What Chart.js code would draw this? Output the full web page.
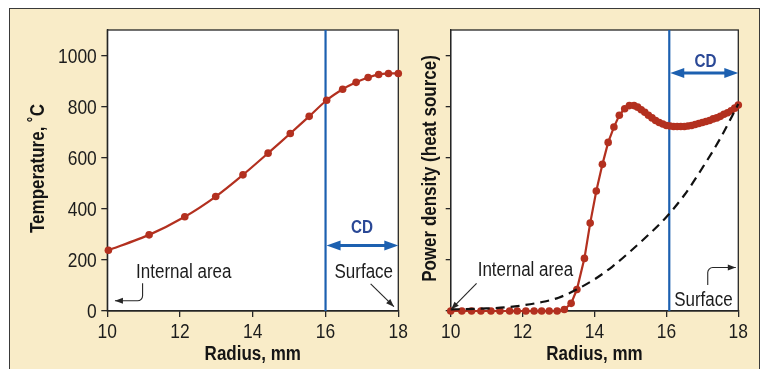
<!DOCTYPE html>
<html>
<head>
<meta charset="utf-8">
<script src="https://cdn.jsdelivr.net/npm/chart.js@4/dist/chart.umd.min.js"></script>
<style>
  html, body { margin: 0; padding: 0; background: #fff; }
  body { width: 763px; height: 369px; position: relative; overflow: hidden; }
  #frame { position: absolute; left: 9px; top: 8px; width: 751px; height: 380px; background: #f9ecc8; border: 1.5px solid #3a3a3a; box-sizing: border-box; }
  #tempChart { position: absolute; left: 0; top: 0; }
  #powerChart { position: absolute; left: 400px; top: 0; }
</style>
</head>
<body>
<div id="frame"></div>
<canvas id="tempChart" width="440" height="369"></canvas>
<canvas id="powerChart" width="363" height="369"></canvas>
<script>
// left panel: temperature vs radius
const radiusTemp = [10.03, 11.15, 12.13, 12.98, 13.73, 14.42, 15.03, 15.55, 16.03, 16.47, 16.84, 17.17, 17.46, 17.73, 18.0];
const temperature = [238, 298, 369, 448, 533, 618, 695, 762, 825, 868, 895, 914, 926, 930, 930];

// right panel: power density vs radius
const radiusPower = [10.0, 10.31, 10.58, 10.84, 11.12, 11.37, 11.64, 11.85, 12.09, 12.32, 12.53, 12.74, 12.96,
  13.16, 13.35, 13.51, 13.72, 13.88, 14.05, 14.22, 14.38, 14.54, 14.69, 14.84, 14.97, 15.1,
  15.2, 15.3, 15.4, 15.5, 15.6, 15.7, 15.8, 15.9, 16.0, 16.1, 16.2, 16.3, 16.4, 16.5, 16.6, 16.7,
  16.8, 16.9, 17.0, 17.1, 17.2, 17.3, 17.4, 17.5, 17.6, 17.7, 17.8, 17.9, 18.0];
const powerDensity = [0, 0, 0, 0, 0, 0, 0, 0, 0, 0, 0, 0, 0,
  0.03, 0.15, 0.42, 1.03, 1.72, 2.35, 2.87, 3.30, 3.60, 3.83, 3.96, 4.02, 4.02,
  3.99, 3.94, 3.89, 3.83, 3.78, 3.73, 3.69, 3.66, 3.63, 3.62, 3.61, 3.61, 3.61, 3.61, 3.62, 3.63,
  3.65, 3.67, 3.69, 3.71, 3.73, 3.76, 3.78, 3.81, 3.85, 3.88, 3.92, 3.97, 4.03];

// dashed reference curve
const dashRadius = [10, 11, 11.5, 12, 12.5, 13, 13.5, 14, 14.5, 15, 15.5, 16, 16.5, 17, 17.5, 18];
const dashPower = [0.03, 0.05, 0.07, 0.11, 0.17, 0.26, 0.42, 0.62, 0.87, 1.17, 1.49, 1.84, 2.27, 2.8, 3.38, 4.05];

const radiusTicks = [10, 12, 14, 16, 18];
const tempTicks = [0, 200, 400, 600, 800, 1000];
const powerTicks = [0, 1, 2, 3, 4, 5];

const FONT = '"Liberation Sans", Arial, sans-serif';
const SQUEEZE = 0.85;   // no narrow face installed, so squeeze the regular one
const RED = '#b3301f';
const BLUE = '#1c60b0';
const NAVY = '#2a4896';
const INK = '#262626';

function narrow(ctx, text, x, y, o) {
  ctx.save();
  ctx.translate(x, y);
  if (o.rotate) ctx.rotate(o.rotate);
  ctx.scale(o.squeeze || SQUEEZE, 1);
  ctx.font = (o.weight || 'normal') + ' ' + o.size + 'px ' + FONT;
  ctx.fillStyle = o.color || '#1c1c1c';
  ctx.textAlign = o.align || 'center';
  ctx.textBaseline = 'alphabetic';
  ctx.fillText(text, 0, 0);
  ctx.restore();
}

function arrowHead(ctx, x, y, ang, len, half, color) {
  ctx.save();
  ctx.translate(x, y);
  ctx.rotate(ang);
  ctx.beginPath();
  ctx.moveTo(0, 0);
  ctx.lineTo(-len, -half);
  ctx.lineTo(-len, half);
  ctx.closePath();
  ctx.fillStyle = color;
  ctx.fill();
  ctx.restore();
}

const plotBox = {
  id: 'plotBox',
  beforeDraw(chart) {
    const { ctx, chartArea: a } = chart;
    ctx.save();
    ctx.fillStyle = '#fff';
    ctx.fillRect(a.left, a.top, a.width, a.height);
    ctx.restore();
  },
  beforeDatasetsDraw(chart) {
    const { ctx, chartArea: a } = chart;
    ctx.save();
    ctx.strokeStyle = INK;
    ctx.lineWidth = 1.3;
    ctx.strokeRect(a.left, a.top, a.width, a.height);
    ctx.restore();
  }
};

// tick labels and axis titles, drawn narrow
const axisText = {
  id: 'axisText',
  afterDraw(chart, args, opts) {
    const { ctx, chartArea: a, scales: { x, y } } = chart;
    x.ticks.forEach(t => narrow(ctx, String(t.value), x.getPixelForValue(t.value), a.bottom + 26.5, { size: 20.5 }));
    if (opts.yLabels) {
      y.ticks.forEach(t => narrow(ctx, String(t.value), a.left - 10.5, y.getPixelForValue(t.value) + 7.3, { size: 20.5, align: 'right' }));
    }
    narrow(ctx, opts.xTitle, (a.left + a.right) / 2, a.bottom + 49, { size: 20, weight: 'bold', color: '#151515' });
    narrow(ctx, opts.yTitle, a.left - opts.yTitleGap, (a.top + a.bottom) / 2 - 2, { size: 20, weight: 'bold', color: '#151515', rotate: -Math.PI / 2 });
  }
};

const cdMarks = {
  id: 'cdMarks',
  beforeDatasetsDraw(chart, args, opts) {
    const { ctx, chartArea: a, scales: { x, y } } = chart;
    const xl = x.getPixelForValue(opts.start);
    const xr = x.getPixelForValue(opts.end);
    const ya = y.getPixelForValue(opts.arrowY);
    ctx.save();
    ctx.strokeStyle = BLUE;
    ctx.lineWidth = 2.2;
    ctx.beginPath();
    ctx.moveTo(xl, a.top);
    ctx.lineTo(xl, a.bottom);
    ctx.stroke();
    ctx.lineWidth = 3;
    ctx.beginPath();
    ctx.moveTo(xl + 10, ya);
    ctx.lineTo(xr - 10, ya);
    ctx.stroke();
    arrowHead(ctx, xl + 1, ya, Math.PI, 14, 5, BLUE);
    arrowHead(ctx, xr, ya, 0, 14, 5, BLUE);
    ctx.restore();
    narrow(ctx, 'CD', x.getPixelForValue(opts.labelX), y.getPixelForValue(opts.labelY), { size: 17.5, weight: 'bold', color: NAVY, squeeze: 0.87 });
  }
};

const notes = {
  id: 'notes',
  afterDatasetsDraw(chart, args, opts) {
    const { ctx, scales: { x, y } } = chart;
    opts.labels.forEach(l => {
      narrow(ctx, l.text, x.getPixelForValue(l.x), y.getPixelForValue(l.y), { size: 20, align: l.align });
    });
    ctx.save();
    ctx.strokeStyle = INK;
    ctx.lineWidth = 1.1;
    opts.arrows.forEach(path => {
      const pts = path.map(p => [x.getPixelForValue(p[0]), y.getPixelForValue(p[1])]);
      ctx.beginPath();
      ctx.moveTo(pts[0][0], pts[0][1]);
      if (pts.length === 3) ctx.arcTo(pts[1][0], pts[1][1], pts[2][0], pts[2][1], 5);
      const q = pts[pts.length - 1];
      const p = pts[pts.length - 2];
      ctx.lineTo(q[0], q[1]);
      ctx.stroke();
      arrowHead(ctx, q[0], q[1], Math.atan2(q[1] - p[1], q[0] - p[0]), 8, 3, INK);
    });
    ctx.restore();
  }
};

const gridStyle = { display: true, drawOnChartArea: false, drawTicks: true, tickLength: 6, color: INK, lineWidth: 1.3 };
const borderStyle = { display: true, color: INK, width: 1.3 };

function axisX() {
  return {
    type: 'linear',
    min: 10,
    max: 18,
    afterBuildTicks: s => { s.ticks = radiusTicks.map(v => ({ value: v })); },
    ticks: { display: false },
    grid: gridStyle,
    border: borderStyle,
    afterFit: s => { s.height = 54.4; }
  };
}

const lineStyle = {
  borderColor: RED,
  backgroundColor: RED,
  borderWidth: 2.2,
  pointRadius: 3.8,
  pointHoverRadius: 3.8,
  pointBorderWidth: 0,
  pointBackgroundColor: RED,
  clip: false
};

new Chart(document.getElementById('tempChart'), {
  type: 'line',
  data: {
    datasets: [{
      label: 'Temperature',
      data: radiusTemp.map((r, i) => ({ x: r, y: temperature[i] })),
      tension: 0.25,
      ...lineStyle
    }]
  },
  options: {
    responsive: false,
    animation: false,
    layout: { padding: { left: 25.6, top: 30, right: 41.7, bottom: 3.6 } },
    plugins: {
      legend: { display: false },
      tooltip: { enabled: false },
      axisText: { yLabels: true, xTitle: 'Radius, mm', yTitle: 'Temperature, \u02DAC', yTitleGap: 63.3 },
      cdMarks: { start: 16, end: 18, arrowY: 256, labelX: 17.0, labelY: 305 },
      notes: {
        labels: [
          { text: 'Internal area', x: 10.79, y: 130, align: 'left' },
          { text: 'Surface', x: 17.05, y: 128, align: 'center' }
        ],
        arrows: [
          [[10.97, 109], [10.97, 40], [10.21, 40]],
          [[17.24, 106], [17.88, 17]]
        ]
      }
    },
    scales: {
      x: axisX(),
      y: {
        type: 'linear',
        min: 0,
        max: 1100,
        afterBuildTicks: s => { s.ticks = tempTicks.map(v => ({ value: v })); },
        ticks: { display: false },
        grid: gridStyle,
        border: borderStyle,
        afterFit: s => { s.width = 107.3 - 25.6; }
      }
    }
  },
  plugins: [plotBox, cdMarks, notes, axisText]
});

new Chart(document.getElementById('powerChart'), {
  type: 'line',
  data: {
    datasets: [{
      label: 'Reference',
      data: dashRadius.map((r, i) => ({ x: r, y: dashPower[i] })),
      borderColor: '#111',
      borderWidth: 2.2,
      borderDash: [9, 6],
      pointRadius: 0,
      cubicInterpolationMode: 'monotone',
      clip: false
    }, {
      label: 'Power density',
      data: radiusPower.map((r, i) => ({ x: r, y: powerDensity[i] })),
      tension: 0,
      ...lineStyle
    }]
  },
  options: {
    responsive: false,
    animation: false,
    layout: { padding: { left: 19.6, top: 30, right: 24.7, bottom: 3.6 } },
    plugins: {
      legend: { display: false },
      tooltip: { enabled: false },
      axisText: { yLabels: false, xTitle: 'Radius, mm', yTitle: 'Power density (heat source)', yTitleGap: 14.7 },
      cdMarks: { start: 16.08, end: 18, arrowY: 4.66, labelX: 17.09, labelY: 4.78 },
      notes: {
        labels: [
          { text: 'Internal area', x: 10.75, y: 0.68, align: 'left' },
          { text: 'Surface', x: 17.03, y: 0.1, align: 'center' }
        ],
        arrows: [
          [[10.72, 0.54], [10.01, 0.03]],
          [[17.15, 0.51], [17.15, 0.85], [17.93, 0.85]]
        ]
      }
    },
    scales: {
      x: axisX(),
      y: {
        type: 'linear',
        min: 0,
        max: 5.5,
        afterBuildTicks: s => { s.ticks = powerTicks.map(v => ({ value: v })); },
        ticks: { display: false },
        grid: { ...gridStyle, tickLength: 5 },
        border: borderStyle,
        afterFit: s => { s.width = 450.7 - 400 - 19.6; }
      }
    }
  },
  plugins: [plotBox, cdMarks, notes, axisText]
});
</script>
</body>
</html>
